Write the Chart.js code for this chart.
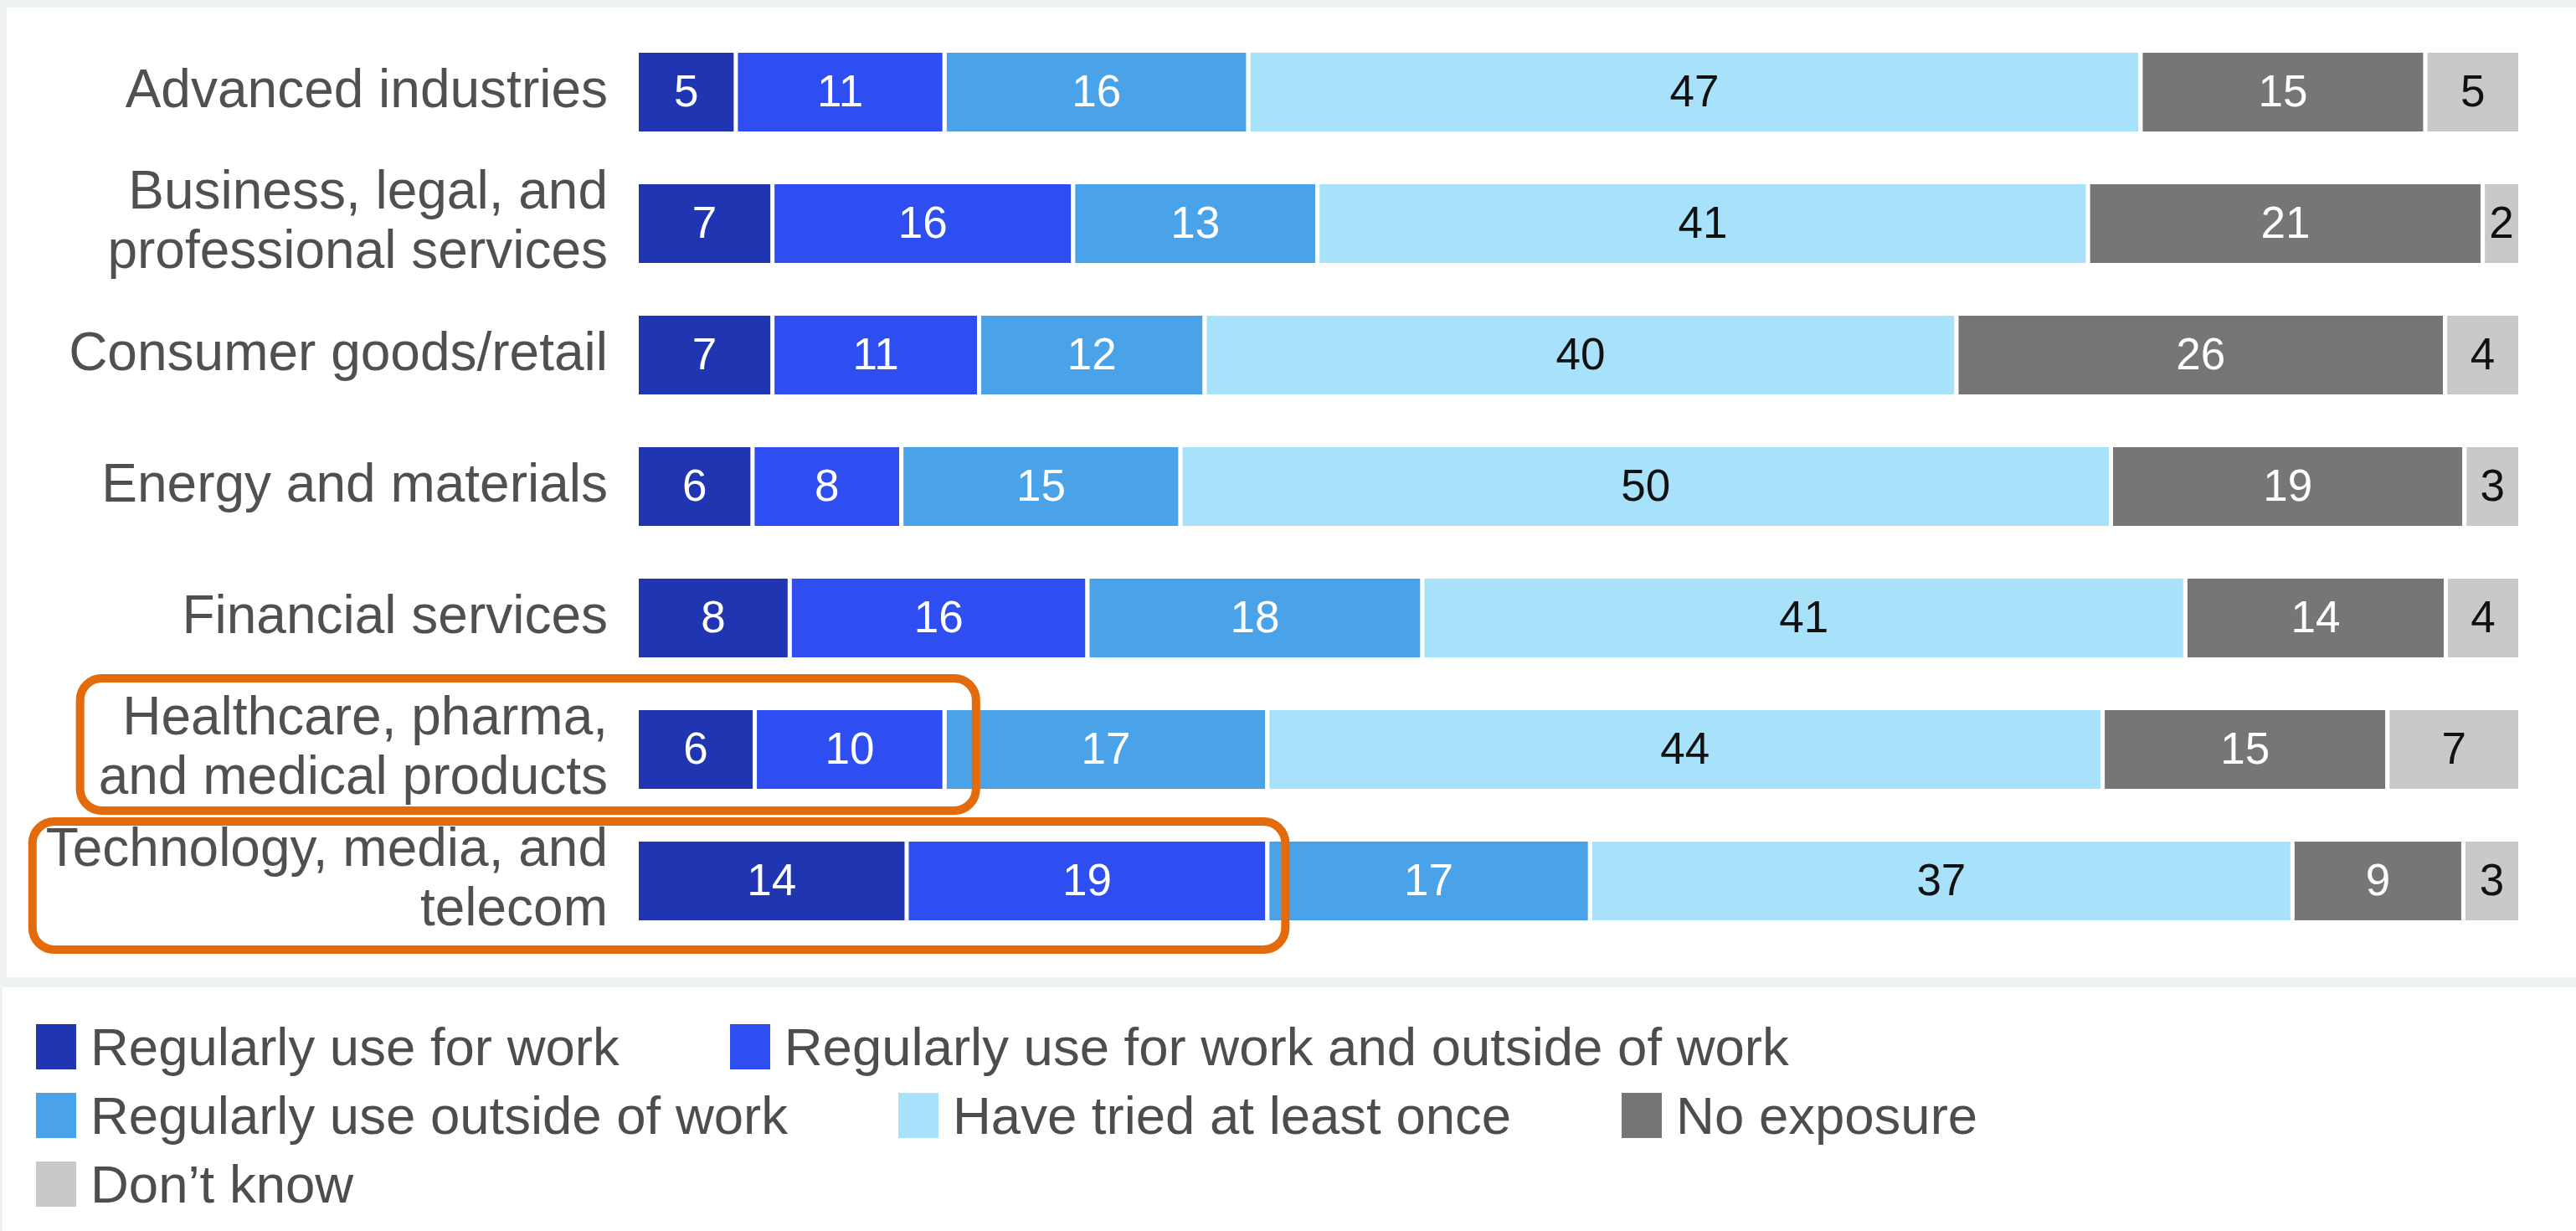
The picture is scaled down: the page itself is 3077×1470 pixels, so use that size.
<!DOCTYPE html>
<html><head><meta charset="utf-8">
<script src="https://cdn.jsdelivr.net/npm/chart.js@4.4.1/dist/chart.umd.min.js"></script>
<style>
html,body{margin:0;padding:0;background:#eef2f3;width:3077px;height:1470px;overflow:hidden;font-family:"Liberation Sans",Arial,sans-serif;}
#top{position:absolute;left:8px;top:9px;width:3069px;height:1158px;background:#fff;}
#bottom{position:absolute;left:3px;top:1179px;width:3074px;height:291px;background:#fff;}
#wrap{position:absolute;left:0;top:0;width:3077px;height:1170px;}
#legend{position:absolute;left:43px;top:1209px;width:2450px;display:flex;flex-wrap:wrap;column-gap:132px;row-gap:0;}
.item{display:flex;align-items:center;height:82px;font-size:63.5px;color:#4d4d4d;white-space:nowrap;}
.sw{width:48px;height:54px;margin-right:17px;flex:none;}
</style></head>
<body>
<div id="top"></div><div id="bottom"></div>
<div id="wrap"><canvas id="c" width="3077" height="1170"></canvas></div>
<div id="legend"></div>
<script>
// ---- data ----
const categories = [
  'Advanced industries',
  ['Business, legal, and', 'professional services'],
  'Consumer goods/retail',
  'Energy and materials',
  'Financial services',
  ['Healthcare, pharma,', 'and medical products'],
  ['Technology, media, and', 'telecom']
];
const seriesNames = ['Regularly use for work', 'Regularly use for work and outside of work', 'Regularly use outside of work', 'Have tried at least once', 'No exposure', 'Don\u2019t know'];
const regularlyForWork     = [5, 7, 7, 6, 8, 6, 14];
const workAndOutside       = [11, 16, 11, 8, 16, 10, 19];
const outsideOfWork        = [16, 13, 12, 15, 18, 17, 17];
const triedAtLeastOnce     = [47, 41, 40, 50, 41, 44, 37];
const noExposure           = [15, 21, 26, 19, 14, 15, 9];
const dontKnow             = [5, 2, 4, 3, 4, 7, 3];

// ---- styles ----
const colors = ['#1f35b2', '#2e4ef2', '#4aa3e8', '#a8e1fa', '#767676', '#c9c9c9'];
const labelColors = ['#ffffff', '#ffffff', '#ffffff', '#111111', '#ffffff', '#111111'];
const GAP = 5;
const FONT = '"Liberation Sans", Arial, sans-serif';
const TICK_FONT_SIZE = 64;

const series = [regularlyForWork, workAndOutside, outsideOfWork, triedAtLeastOnce, noExposure, dontKnow];
const totals = categories.map((_, j) => series.reduce((s, arr) => s + arr[j], 0));

const datasets = series.map((arr, i) => ({
  label: seriesNames[i],
  data: arr.map((v, j) => v / totals[j] * 100),
  raw: arr,
  backgroundColor: colors[i],
  borderColor: '#ffffff',
  borderWidth: i === 0 ? 0 : { left: GAP, right: 0, top: 0, bottom: 0 },
  borderSkipped: false,
  barPercentage: 1,
  categoryPercentage: 0.6
}));

const segLabels = {
  id: 'segLabels',
  afterDatasetsDraw(chart) {
    const ctx = chart.ctx;
    ctx.save();
    ctx.font = '53px ' + FONT;
    ctx.textAlign = 'center';
    ctx.textBaseline = 'middle';
    chart.data.datasets.forEach((ds, i) => {
      const meta = chart.getDatasetMeta(i);
      meta.data.forEach((el, j) => {
        const cx = (el.x + el.base) / 2 + (i > 0 ? GAP / 2 : 0);
        ctx.fillStyle = labelColors[i];
        ctx.fillText(String(ds.raw[j]), cx, el.y + 2);
      });
    });
    ctx.restore();
  }
};

const highlights = [
  { row: 5, segs: 2, padL: 22, padR: 40, top: 85, bottom: 73 },
  { row: 6, segs: 2, padL: 16, padR: 24, top: 71, bottom: 82 }
];
const TICK_PAD = 37;
const boxes = {
  id: 'boxes',
  afterDraw(chart) {
    const ctx = chart.ctx;
    const y = chart.scales.y;
    ctx.save();
    ctx.font = TICK_FONT_SIZE + 'px ' + FONT;
    highlights.forEach(h => {
      const lab = categories[h.row];
      const lines = Array.isArray(lab) ? lab : [lab];
      const w = Math.max(...lines.map(l => ctx.measureText(l).width));
      const labelRight = chart.chartArea.left - TICK_PAD;
      const el = chart.getDatasetMeta(h.segs - 1).data[h.row];
      const cy = y.getPixelForValue(h.row);
      const x0 = labelRight - w - h.padL, x1 = el.x + h.padR;
      ctx.beginPath();
      ctx.roundRect(x0, cy - h.top, x1 - x0, h.top + h.bottom, 26);
      ctx.lineWidth = 10;
      ctx.strokeStyle = '#e36b0b';
      ctx.stroke();
    });
    ctx.restore();
  }
};

new Chart(document.getElementById('c'), {
  type: 'bar',
  data: { labels: categories, datasets },
  options: {
    indexAxis: 'y',
    responsive: false,
    animation: false,
    devicePixelRatio: 1,
    layout: { padding: { top: 31.5, right: 69, bottom: 39.5, left: 0 } },
    plugins: { legend: { display: false }, tooltip: { enabled: false } },
    scales: {
      x: { stacked: true, min: 0, max: 100, display: false },
      y: {
        stacked: true,
        grid: { display: false, drawTicks: false },
        border: { display: false },
        afterFit(scale) { scale.width = 763; scale.paddingTop = 0; scale.paddingBottom = 0; },
        ticks: { padding: TICK_PAD, color: '#505050', font: { family: FONT, size: TICK_FONT_SIZE, lineHeight: 1.12 } }
      }
    }
  },
  plugins: [segLabels, boxes]
});

// legend (HTML, built from the series names/colors)
const lg = document.getElementById('legend');
seriesNames.forEach((n, i) => {
  const d = document.createElement('div');
  d.className = 'item';
  d.innerHTML = '<span class="sw" style="background:' + colors[i] + '"></span><span>' + n + '</span>';
  lg.appendChild(d);
});
</script>
</body></html>
